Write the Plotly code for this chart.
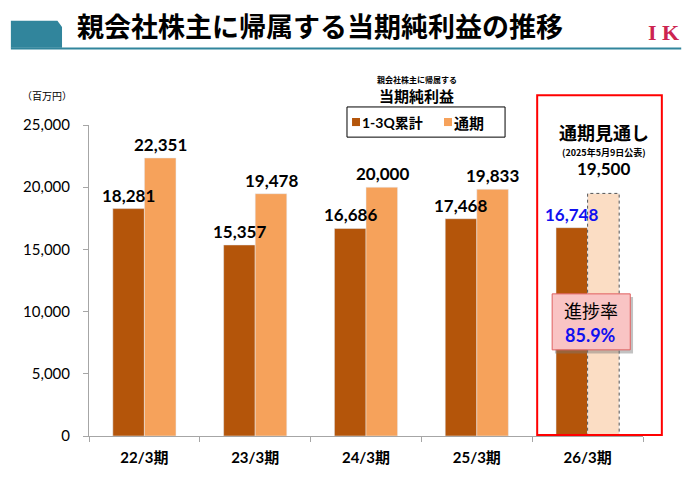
import plotly.graph_objects as go

# data (百万円)
periods = ['22/3期', '23/3期', '24/3期', '25/3期', '26/3期']
q1_3_cum = [18281, 15357, 16686, 17468, 16748]
full_year = [22351, 19478, 20000, 19833, 19500]
progress_rate = '85.9%'
y_ticks = [0, 5000, 10000, 15000, 20000, 25000]

DARK = '#B4550A'
LIGHT = '#F6A25B'
FORECAST = '#FBDDC4'
TEAL = '#31859C'
JP = 'Noto Sans CJK JP'
NUM = 'Lato, Noto Sans CJK JP'

BARGAP = 0.43
bar_w = (1 - BARGAP) / 2

fig = go.Figure()
fig.add_trace(go.Bar(x=periods, y=q1_3_cum, name='1-3Q累計',
                     marker=dict(color=DARK)))
fig.add_trace(go.Bar(x=periods, y=full_year, name='通期',
                     marker=dict(color=[LIGHT] * 4 + [FORECAST])))

# value labels (annotations so the taller bar does not cover them)
for i, p in enumerate(periods):
    fig.add_annotation(xref='x', yref='y', x=p, y=q1_3_cum[i],
                       xshift=-16, yshift=1, yanchor='bottom', showarrow=False,
                       text=f'{q1_3_cum[i]:,}',
                       font=dict(family=NUM, size=17, weight='bold',
                                 color='#1010F0' if i == len(periods) - 1 else 'black'))
    fig.add_annotation(xref='x', yref='y', x=p, y=full_year[i],
                       xshift=16, yshift=12 if i == len(periods) - 1 else 1,
                       yanchor='bottom', showarrow=False,
                       text=f'{full_year[i]:,}',
                       font=dict(family=NUM, size=17, weight='bold', color='black'))

# forecast bar: dashed outline
fig.add_shape(type='rect', xref='x', yref='y',
              x0=len(periods) - 1, x1=len(periods) - 1 + bar_w,
              y0=0, y1=full_year[-1],
              line=dict(color='#555555', width=1, dash='dot'))

# red frame round the forecast
fig.add_shape(type='rect', xref='paper', yref='paper',
              x0=0.809, x1=1.034, y0=0.003, y1=1.096,
              line=dict(color='#FF0000', width=2))

# progress callout (shadow + box)
fig.add_shape(type='rect', xref='paper', yref='paper',
              x0=0.841, x1=0.982, y0=0.265, y1=0.447,
              fillcolor='rgba(120,120,120,0.45)', line_width=0)
fig.add_shape(type='rect', xref='paper', yref='paper',
              x0=0.836, x1=0.977, y0=0.277, y1=0.457,
              fillcolor='#F9C4C4', line=dict(color='#E06060', width=1))

# hand-made legend box
fig.add_shape(type='rect', xref='paper', yref='paper',
              x0=0.4657, x1=0.751, y0=0.961, y1=1.058,
              line=dict(color='black', width=1), fillcolor='white')
for cx, col in [(0.482, DARK), (0.648, LIGHT)]:
    fig.add_shape(type='rect', xref='paper', yref='paper',
                  x0=cx - 0.0072, x1=cx + 0.0072, y0=0.9966, y1=1.0226,
                  line_width=0, fillcolor=col)

# header
fig.add_shape(type='path', xref='paper', yref='paper',
              path='M -0.141 1.248 L -0.141 1.335 L -0.057 1.335 L -0.0487 1.315 L -0.0487 1.248 Z',
              fillcolor=TEAL, line_width=0)
fig.add_shape(type='line', xref='paper', yref='paper',
              x0=-0.141, x1=1.069, y0=1.246, y1=1.246,
              line=dict(color=TEAL, width=2))

ann = [
    dict(text='親会社株主に帰属する当期純利益の推移', x=-0.025, y=1.3215,
         xanchor='left', yanchor='middle',
         font=dict(family=JP, size=27, weight='bold', color='black')),
    dict(text='I K', x=1.068, y=1.2985, xanchor='right', yanchor='middle',
         font=dict(family='Liberation Serif', size=22, weight='bold', color='#CC2450')),
    dict(text='（百万円）', x=-0.075, y=1.095, xanchor='center', yanchor='middle',
         font=dict(family=JP, size=10, color='black')),
    dict(text='親会社株主に帰属する', x=0.592, y=1.145, xanchor='center', yanchor='middle',
         font=dict(family=JP, size=8, weight='bold', color='black')),
    dict(text='当期純利益', x=0.592, y=1.095, xanchor='center', yanchor='middle',
         font=dict(family=JP, size=15, weight='bold', color='black')),
    dict(text='1-3Q累計', x=0.489, y=1.0096, xanchor='left', yanchor='middle',
         font=dict(family=NUM, size=14, weight='bold', color='black')),
    dict(text='通期', x=0.655, y=1.0096, xanchor='left', yanchor='middle',
         font=dict(family=JP, size=15, weight='bold', color='black')),
    dict(text='通期見通し', x=0.93, y=0.977, xanchor='center', yanchor='middle',
         font=dict(family=JP, size=18, weight='bold', color='black')),
    dict(text='(2025年5月9日公表)', x=0.93, y=0.91, xanchor='center', yanchor='middle',
         font=dict(family=JP, size=9, weight='bold', color='black')),
    dict(text='進捗率', x=0.906, y=0.405, xanchor='center', yanchor='middle',
         font=dict(family=JP, size=18, color='black')),
    dict(text=progress_rate, x=0.906, y=0.325, xanchor='center', yanchor='middle',
         font=dict(family=NUM, size=18, weight='bold', color='#1010F0')),
]
for a in ann:
    fig.add_annotation(xref='paper', yref='paper', showarrow=False, **a)

fig.update_layout(
    width=689, height=484,
    margin=dict(l=89, r=46, t=125, b=48),
    paper_bgcolor='white', plot_bgcolor='white',
    barmode='group', bargap=BARGAP, bargroupgap=0,
    showlegend=False,
    xaxis=dict(showline=True, linecolor='#A6A6A6', linewidth=1,
               ticks='outside', tickson='boundaries', ticklen=5, tickcolor='#A6A6A6',
               tickfont=dict(family=NUM, size=15, weight='bold', color='black'),
               ticklabelstandoff=8, showgrid=False),
    yaxis=dict(range=[0, 25000], tickvals=y_ticks, tickformat=',',
               showline=True, linecolor='#A6A6A6', linewidth=1,
               ticks='outside', ticklen=5, tickcolor='#A6A6A6',
               tickfont=dict(family=NUM, size=15, color='black'),
               ticklabelstandoff=10, showgrid=False, zeroline=False),
)

fig.write_html('out.html', config={'displayModeBar': False},
               post_script="document.body.style.margin='0';")
